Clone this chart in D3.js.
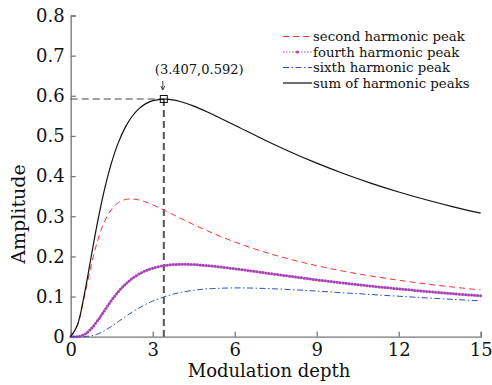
<!DOCTYPE html>
<html><head><meta charset="utf-8">
<script src="https://cdn.jsdelivr.net/npm/d3@7"></script>
<style>body{margin:0;background:#fff}svg{display:block}text{font-family:"DejaVu Serif",serif;fill:#111}</style>
</head><body><svg id="c" width="492" height="385"></svg>
<script>
const depth = [0,0.25,0.5,0.75,1,1.25,1.5,1.75,2,2.25,2.5,2.75,3,3.5,4,4.5,5,6,7,8,9,10,11,12,13,14,15];
const second = [0,0.0294,0.0997,0.1778,0.2426,0.2886,0.3178,0.3342,0.3416,0.3431,0.3405,0.3353,0.3286,0.3126,0.2957,0.2792,0.2636,0.2360,0.2128,0.1933,0.1769,0.1630,0.1510,0.1406,0.1315,0.1235,0.1164];
const fourth = [0,0.0004,0.0056,0.0198,0.0416,0.0667,0.0910,0.1125,0.1305,0.1449,0.1561,0.1645,0.1707,0.1779,0.1803,0.1796,0.1772,0.1693,0.1600,0.1507,0.1417,0.1335,0.1259,0.1191,0.1128,0.1071,0.1019];
const sixth = [0,0.0000,0.0003,0.0022,0.0071,0.0154,0.0261,0.0379,0.0498,0.0612,0.0715,0.0807,0.0887,0.1012,0.1099,0.1156,0.1191,0.1215,0.1204,0.1174,0.1136,0.1093,0.1050,0.1008,0.0967,0.0929,0.0892];
const total = [0,0.0299,0.1056,0.1997,0.2914,0.3707,0.4348,0.4846,0.5220,0.5491,0.5681,0.5805,0.5879,0.5917,0.5859,0.5744,0.5598,0.5268,0.4932,0.4614,0.4322,0.4058,0.3820,0.3605,0.3411,0.3235,0.3076];
const peak = {x:3.407, y:0.592, label:"(3.407,0.592)"};
const xTicks = [0,3,6,9,12,15];
const yTicks = [0,0.1,0.2,0.3,0.4,0.5,0.6,0.7,0.8];
const legendLabels = ["second harmonic peak","fourth harmonic peak","sixth harmonic peak","sum of harmonic peaks"];

const svg = d3.select("#c");
const x = d3.scaleLinear().domain([0,15]).range([70.7,480.7]);
const y = d3.scaleLinear().domain([0,0.8]).range([336.7,15.5]);

const styles = [
  {color:"#ff3030", dash:"6,4", w:1},
  {color:"#a844b8", dash:"1.5,1.5", w:1},
  {color:"#2f4fc0", dash:"6,2.5,1.5,2.5", w:1},
  {color:"#111", dash:null, w:1.2}
];
const seriesData = [second, fourth, sixth, total];

// axes
const gx = svg.append("g").attr("transform",`translate(0,${y(0)})`)
  .call(d3.axisBottom(x).tickValues(xTicks).tickSize(-5).tickPadding(4).tickFormat(d3.format("d")));
const gy = svg.append("g").attr("transform",`translate(${x(0)},0)`)
  .call(d3.axisLeft(y).tickValues(yTicks).tickSize(-5).tickPadding(6).tickFormat(d=>d===0?"0":d3.format(".1f")(d)));
[gx,gy].forEach(g=>{
  g.select(".domain").attr("stroke","#777").attr("stroke-width",1.3);
  g.selectAll(".tick line").attr("stroke","#777").attr("stroke-width",1.3);
  g.selectAll(".tick text").style("font-family","'DejaVu Serif',serif").style("font-size","18px").attr("fill","#111");
});
gx.selectAll(".tick text").attr("y",1).attr("dy","1em");

// reference dashed lines
svg.append("line").attr("x1",x(0)).attr("x2",x(peak.x)).attr("y1",y(peak.y)).attr("y2",y(peak.y))
  .attr("stroke","#444").attr("stroke-width",1.2).attr("stroke-dasharray","7,4");
svg.append("line").attr("x1",x(peak.x)).attr("x2",x(peak.x)).attr("y1",y(peak.y)).attr("y2",y(0))
  .attr("stroke","#555").attr("stroke-width",2).attr("stroke-dasharray","7,4");

const line = d3.line().x((d,i)=>x(depth[i])).y(d=>y(d)).curve(d3.curveCatmullRom.alpha(0.5));
seriesData.forEach((s,k)=>{
  const st = styles[k];
  if(k===1){
    svg.append("path").attr("d",line(s)).attr("fill","none").attr("stroke","#c070d0").attr("stroke-width",2.2).attr("stroke-opacity",0.5);
    svg.append("path").attr("d",line(s)).attr("fill","none").attr("stroke",st.color).attr("stroke-width",3)
      .attr("stroke-dasharray","0,3").attr("stroke-linecap","round");
  } else {
    svg.append("path").attr("d",line(s)).attr("fill","none").attr("stroke",st.color)
      .attr("stroke-width",st.w).attr("stroke-dasharray",st.dash);
  }
});

// peak marker
svg.append("rect").attr("x",x(peak.x)-3.5).attr("y",y(peak.y)-3.5).attr("width",7).attr("height",7)
  .attr("fill","none").attr("stroke","#111").attr("stroke-width",1);
svg.append("text").attr("x",x(peak.x)-9).attr("y",74).style("font-size","13px").text(peak.label);
svg.append("line").attr("x1",x(peak.x)-1).attr("x2",x(peak.x)-1).attr("y1",81).attr("y2",89).attr("stroke","#111").attr("stroke-width",0.8);
svg.append("path").attr("d",`M${x(peak.x)-3},86 L${x(peak.x)-1},90 L${x(peak.x)+1},86`).attr("fill","none").attr("stroke","#111").attr("stroke-width",0.8);

// legend
legendLabels.forEach((lab,i)=>{
  const yy = 36.5 + i*15.5;
  const st = styles[i];
  const ln = svg.append("line").attr("x1",283).attr("x2",312).attr("y1",yy).attr("y2",yy)
    .attr("stroke",st.color).attr("stroke-width",st.w);
  if(st.dash) ln.attr("stroke-dasharray",st.dash);
  if(i===1) svg.append("circle").attr("cx",297.5).attr("cy",yy).attr("r",1.6).attr("fill",st.color);
  svg.append("text").attr("x",313).attr("y",yy+4.6).style("font-size","13.3px").text(lab);
});

// axis titles
svg.append("text").attr("x",269).attr("y",377).attr("text-anchor","middle").style("font-size","18px").text("Modulation depth");
svg.append("text").attr("transform","translate(25,214) rotate(-90)").attr("text-anchor","middle").style("font-size","19px").text("Amplitude");
</script></body></html>
